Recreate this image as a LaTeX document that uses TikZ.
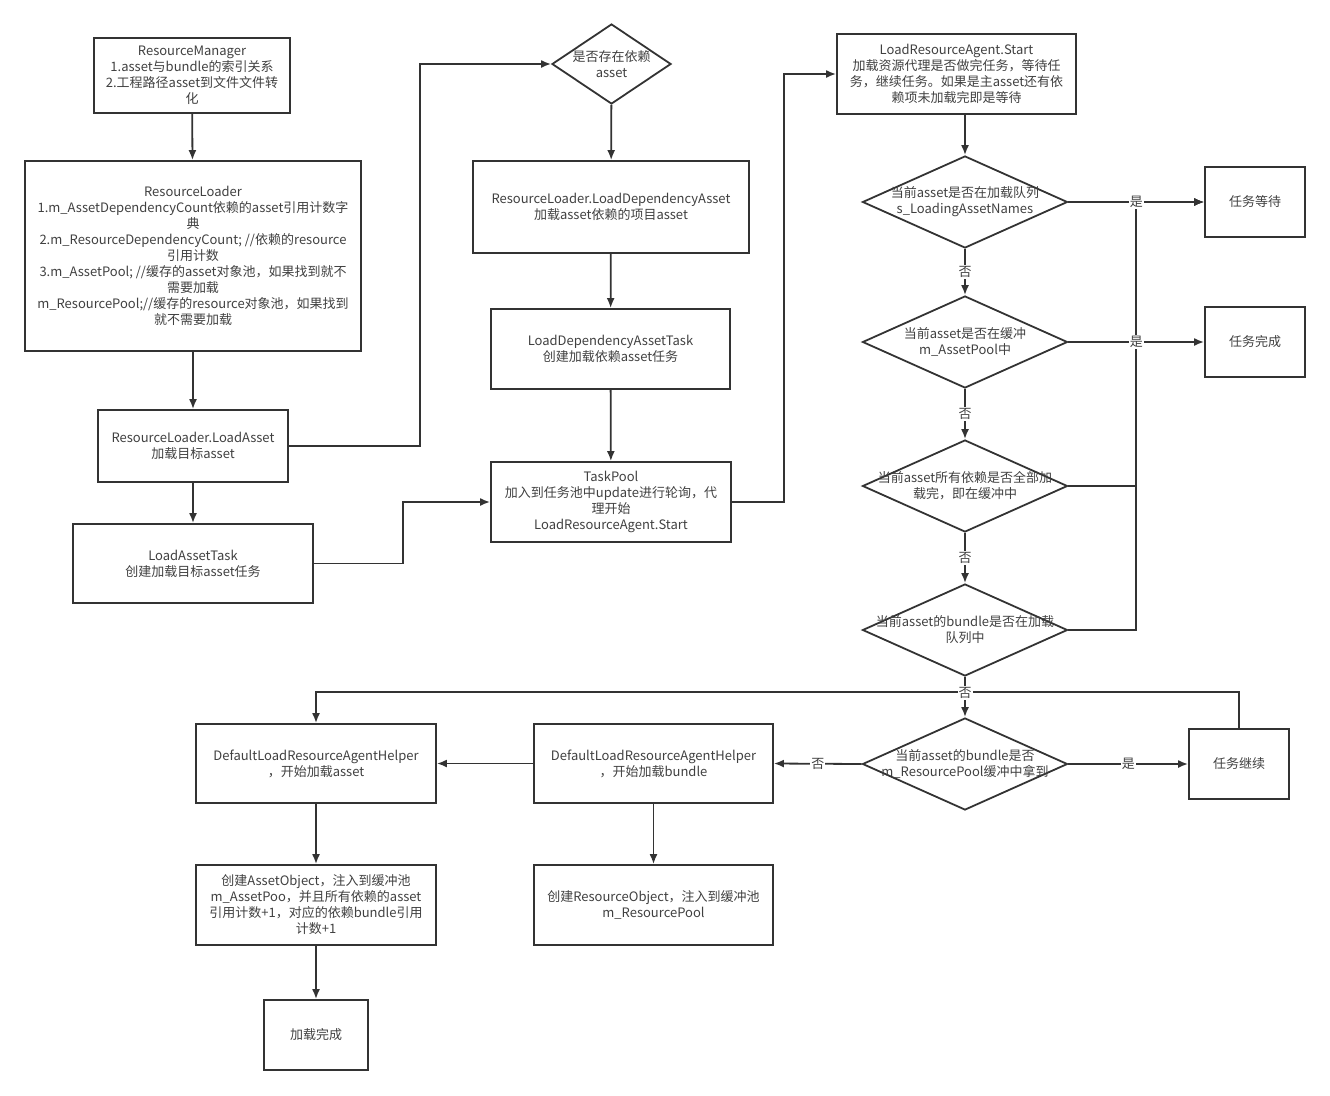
\documentclass[tikz,border=0pt]{standalone}
\usepackage{fontspec}
\setmainfont{Noto Sans CJK SC}
\usetikzlibrary{shapes.geometric,arrows.meta}
\definecolor{linie}{HTML}{333333}
\definecolor{schrift}{HTML}{404040}

\def\schrift{\fontsize{13}{16}\selectfont}
\def\kasten#1#2#3#4#5{
	\node[kasten,minimum width=#3,minimum height=#4] (#1) at (#2) {#5};
}
\def\raute#1#2#3{
	\node[raute,label={[rautetext]center:{#3}}] (#1) at (#2) {};
}

\begin{document}
\begin{tikzpicture}[x=1pt,y=-1pt,>={Latex[length=10pt,width=8pt]},line width=1.8pt,draw=linie,
	kasten/.style={draw=linie,rectangle,align=center,text=schrift,font=\schrift,inner sep=0pt},
	raute/.style={draw=linie,diamond,minimum width=205pt,minimum height=92pt,inner sep=0pt},
	rautetext/.style={align=center,text=schrift,font=\schrift,inner sep=0pt},
	marke/.style={fill=white,text=schrift,font=\schrift,inner sep=1pt},
	pfeil/.style={->,draw=linie}]
\useasboundingbox (0,0) rectangle (1330,1095);

% linke Spalte
\kasten{rm}{192,75.5}{196pt}{75pt}{ResourceManager\\1.asset与bundle的索引关系\\2.工程路径asset到文件文件转\\化}
\kasten{rl}{193,256}{336pt}{190pt}{ResourceLoader\\1.m\_AssetDependencyCount依赖的asset引用计数字\\典\\2.m\_ResourceDependencyCount; //依赖的resource\\引用计数\\3.m\_AssetPool; //缓存的asset对象池，如果找到就不\\需要加载\\m\_ResourcePool;//缓存的resource对象池，如果找到\\就不需要加载}
\kasten{rlla}{193,446}{190pt}{72pt}{ResourceLoader.LoadAsset\\加载目标asset}
\kasten{lat}{193,563.5}{240pt}{79pt}{LoadAssetTask\\创建加载目标asset任务}

% mittlere Spalte
\node[raute,minimum width=119pt,minimum height=80pt,label={[rautetext]center:{是否存在依赖\\asset}}] (dep) at (611.5,64) {};
\kasten{rllda}{611,207}{276pt}{92pt}{ResourceLoader.LoadDependencyAsset\\加载asset依赖的项目asset}
\kasten{ldat}{610.5,349}{239pt}{80pt}{LoadDependencyAssetTask\\创建加载依赖asset任务}
\kasten{tp}{611,502}{240pt}{80pt}{TaskPool\\加入到任务池中update进行轮询，代\\理开始\\LoadResourceAgent.Start}

% rechte Spalte
\kasten{lras}{956.5,74}{239pt}{80pt}{LoadResourceAgent.Start\\加载资源代理是否做完任务，等待任\\务，继续任务。如果是主asset还有依\\赖项未加载完即是等待}
\raute{qa}{965,202}{当前asset是否在加载队列\\s\_LoadingAssetNames}
\raute{qb}{965,342}{当前asset是否在缓冲\\m\_AssetPool中}
\raute{qc}{965,486}{当前asset所有依赖是否全部加\\载完，即在缓冲中}
\raute{qd}{965,630}{当前asset的bundle是否在加载\\队列中}
\raute{qe}{965,764}{当前asset的bundle是否\\m\_ResourcePool缓冲中拿到}
\kasten{warten}{1255,202}{100pt}{70pt}{任务等待}
\kasten{fertig}{1255,342}{100pt}{70pt}{任务完成}
\kasten{weiter}{1239,764}{100pt}{70pt}{任务继续}

% unten
\kasten{hasset}{316,763.5}{240pt}{79pt}{DefaultLoadResourceAgentHelper\\，开始加载asset}
\kasten{hbundle}{653.5,763.5}{239pt}{79pt}{DefaultLoadResourceAgentHelper\\，开始加载bundle}
\kasten{aobj}{316,905}{240pt}{80pt}{创建AssetObject，注入到缓冲池\\m\_AssetPoo，并且所有依赖的asset\\引用计数+1，对应的依赖bundle引用\\计数+1}
\kasten{robj}{653.5,905}{239pt}{80pt}{创建ResourceObject，注入到缓冲池\\m\_ResourcePool}
\kasten{geladen}{316,1035}{104pt}{70pt}{加载完成}

\coordinate (knoten) at (1136,202);

% Verbindungen
\draw[pfeil] (rm) -- (rl);
\draw[pfeil] (rl) -- (rlla);
\draw[pfeil] (rlla) -- (lat);
\draw[pfeil] (rlla.east) -- ++(131,0) |- (dep.west);
\draw[pfeil] (lat.east) -- ++(89,0) |- (tp.west);
\draw[pfeil] (dep) -- (rllda);
\draw[pfeil] (rllda) -- (ldat);
\draw[pfeil] (ldat) -- (tp);
\draw[pfeil] (tp.east) -- ++(52,0) |- (lras.west);
\draw[pfeil] (lras.south -| qa.north) -- (qa.north);
\draw[pfeil] (qa) -- node[marke]{否} (qb);
\draw[pfeil] (qb) -- node[marke]{否} (qc);
\draw[pfeil] (qc) -- node[marke]{否} (qd);
\draw[pfeil] (qe.west) -- node[marke]{否} (hbundle.east);
\draw[pfeil] (qc.east) -| (knoten) -- (warten.west);
\draw[pfeil] (qd.east) -| (knoten) -- (warten.west);
\draw[pfeil] (qa.east) -- node[marke]{是} (warten.west);
\draw[pfeil] (qb.east) -- node[marke]{是} (fertig.west);
\draw[pfeil] (weiter.north) -- ++(0,-36) -| (hasset.north);
\draw[pfeil] (qd) -- node[marke,pos=0.4]{否} (qe);
\draw[pfeil] (qe.east) -- node[marke]{是} (weiter.west);
\draw[pfeil] (hbundle) -- (hasset);
\draw[pfeil] (hasset) -- (aobj);
\draw[pfeil] (aobj) -- (geladen);
\draw[pfeil] (hbundle) -- (robj);
\end{tikzpicture}
\end{document}
